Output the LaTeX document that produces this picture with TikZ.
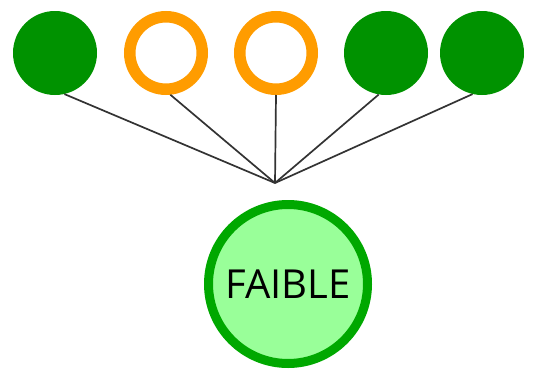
\documentclass[tikz,border=0pt]{standalone}
\usepackage{fontspec}
\setsansfont{Open Sans}
\usepackage{tikz}

\definecolor{dotgreen}{HTML}{009200}
\definecolor{ringorange}{HTML}{FF9C00}
\definecolor{weakfill}{HTML}{99FF99}
\definecolor{weakring}{HTML}{00A800}

\tikzset{
    greendot/.style={circle, fill=dotgreen, minimum size=84pt, inner sep=0pt},
    orangering/.style={circle, draw=ringorange, line width=11.5pt, fill=white, minimum size=72.5pt, inner sep=0pt},
    weaknode/.style={circle, draw=weakring, line width=9pt, fill=weakfill, minimum size=159pt, inner sep=0pt, font=\sffamily\fontsize{40}{40}\selectfont},
    link/.style={line width=1.7pt, black!80}
}

\begin{document}
\begin{tikzpicture}[x=1pt, y=-1pt]
    \useasboundingbox (0,0) rectangle (554,372);

    % 上面一排圆
    \node[greendot] (g1) at (55,53) {};
    \node[orangering] (o2) at (166,53) {};
    \node[orangering] (o3) at (276,53) {};
    \node[greendot] (g4) at (386,53) {};
    \node[greendot] (g5) at (482,53) {};

    % 连线的汇合点
    \coordinate (hub) at (275,183);

    % 下面的大圆
    \node[weaknode] (faible) at (288,284) {FAIBLE};

    % 绘制连线
    \draw[link] (g1.-77) -- (hub);
    \draw[link] (o2.-84) -- (hub);
    \draw[link] (o3.-90) -- (hub);
    \draw[link] (g4.-100) -- (hub);
    \draw[link] (g5.-103) -- (hub);
\end{tikzpicture}
\end{document}
